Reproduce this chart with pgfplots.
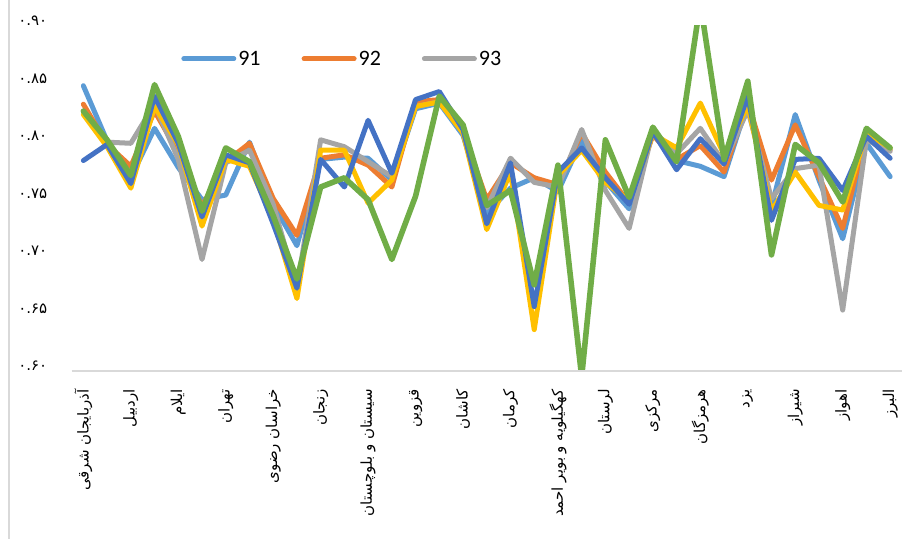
\documentclass[border=0pt]{standalone}
\usepackage{pgfplots}
\pgfplotsset{compat=1.18}
\usepackage{pgfplotstable}
\usepackage{fontspec}
\setmainfont{Carlito}
\newfontfamily\fa[Script=Arabic]{DejaVu Sans}
\TeXXeTstate=1
\definecolor{cA}{HTML}{5B9BD5}
\definecolor{cB}{HTML}{ED7D31}
\definecolor{cC}{HTML}{A5A5A5}
\definecolor{cD}{HTML}{FFC000}
\definecolor{cE}{HTML}{4472C4}
\definecolor{cF}{HTML}{70AD47}
\definecolor{axgray}{HTML}{D9D9D9}

\pgfplotstableread{
i  a     b     c     d     e     f
0  0.848 0.832 0.826 0.823 0.783 0.826
1  0.800 0.797 0.799 0.795 0.797 0.801
2  0.768 0.778 0.798 0.759 0.763 0.770
3  0.811 0.826 0.832 0.830 0.839 0.849
4  0.777 0.790 0.784 0.797 0.798 0.804
5  0.749 0.743 0.697 0.726 0.734 0.739
6  0.753 0.782 0.781 0.784 0.788 0.794
7  0.799 0.798 0.792 0.778 0.781 0.782
8  0.745 0.750 0.745 0.732 0.728 0.735
9  0.709 0.718 0.672 0.663 0.672 0.680
10 0.784 0.785 0.801 0.792 0.784 0.760
11 0.786 0.788 0.795 0.792 0.760 0.768
12 0.785 0.779 0.782 0.746 0.818 0.749
13 0.766 0.760 0.769 0.766 0.772 0.697
14 0.828 0.834 0.830 0.830 0.836 0.752
15 0.833 0.836 0.834 0.834 0.843 0.839
16 0.805 0.808 0.808 0.807 0.810 0.814
17 0.737 0.749 0.742 0.723 0.728 0.744
18 0.759 0.781 0.785 0.773 0.781 0.757
19 0.768 0.768 0.764 0.636 0.656 0.675
20 0.756 0.762 0.760 0.770 0.773 0.779
21 0.801 0.807 0.810 0.792 0.794 0.595
22 0.765 0.773 0.757 0.764 0.768 0.801
23 0.741 0.746 0.724 0.748 0.745 0.751
24 0.808 0.805 0.809 0.806 0.808 0.812
25 0.783 0.784 0.789 0.794 0.775 0.782
26 0.778 0.796 0.811 0.833 0.802 0.920
27 0.769 0.773 0.781 0.788 0.780 0.784
28 0.833 0.834 0.827 0.831 0.839 0.852
29 0.743 0.766 0.750 0.739 0.731 0.701
30 0.823 0.814 0.776 0.773 0.784 0.797
31 0.766 0.769 0.779 0.744 0.785 0.781
32 0.715 0.724 0.653 0.740 0.757 0.747
33 0.798 0.807 0.801 0.807 0.804 0.811
34 0.769 0.792 0.791 0.794 0.785 0.794
}\data

\begin{document}
\begin{tikzpicture}
\path[use as bounding box] (0bp,0bp) rectangle (903bp,539bp);
\draw[color=axgray, line width=1.5bp] (9bp,0bp) -- (9bp,539bp);
\begin{axis}[
  at={(83.37bp,168bp)}, anchor=origin,
  width=830.5bp, height=345bp, scale only axis,
  xmin=-0.5, xmax=34.5, ymin=0.6, ymax=0.9,
  axis line style={draw=none},
  major tick length=0pt,
  xtick={0,2,4,6,8,10,12,14,16,18,20,22,24,26,28,30,32,34},
  xticklabels={
    {\beginR آذربایجان شرقی\endR},
    {\beginR اردبیل\endR},
    {\beginR ایلام\endR},
    {\beginR تهران\endR},
    {\beginR خراسان رضوی\endR},
    {\beginR زنجان\endR},
    {\beginR سیستان و بلوچستان\endR},
    {\beginR قزوین\endR},
    {\beginR کاشان\endR},
    {\beginR کرمان\endR},
    {\beginR کهگیلویه و بویر احمد\endR},
    {\beginR لرستان\endR},
    {\beginR مرکزی\endR},
    {\beginR هرمزگان\endR},
    {\beginR یزد\endR},
    {\beginR شیراز\endR},
    {\beginR اهواز\endR},
    {\beginR البرز\endR}},
  xticklabel style={font=\fa\fontsize{15bp}{17bp}\selectfont, rotate=90, anchor=east, inner sep=0pt, xshift=2bp},
  xticklabel shift=20bp,
  ytick={0.60,0.65,0.70,0.75,0.80,0.85,0.90},
  yticklabels={۰.۶۰,۰.۶۵,۰.۷۰,۰.۷۵,۰.۸۰,۰.۸۵,۰.۹۰},
  yticklabel style={font=\fa\fontsize{15bp}{17bp}\selectfont, anchor=east, inner sep=0pt, yshift=5bp},
  yticklabel shift=24bp,
  legend columns=3,
  legend style={at={(0.132,0.905)}, anchor=west, draw=none, fill=none,
    font=\fontsize{22bp}{26bp}\selectfont, inner sep=0pt,
    /tikz/every even column/.append style={column sep=39bp}},
  legend image code/.code={\draw[#1, line cap=round] (0bp,0bp) -- (50bp,0bp);},
  every axis plot/.append style={line cap=round, line join=round},
]
\addplot[color=cA, line width=5bp] table[x=i,y=a]{\data};
\addlegendentry{91}
\addplot[color=cB, line width=5bp] table[x=i,y=b]{\data};
\addlegendentry{92}
\addplot[color=cC, line width=5bp] table[x=i,y=c]{\data};
\addlegendentry{93}
\addplot[color=cD, line width=5bp, forget plot] table[x=i,y=d]{\data};
\addplot[color=cE, line width=5bp, forget plot] table[x=i,y=e]{\data};
\addplot[color=cF, line width=5.6bp, forget plot] table[x=i,y=f]{\data};
\end{axis}
\draw[color=axgray, line width=1.5bp] (71.5bp,168bp) -- (902bp,168bp);
\end{tikzpicture}
\end{document}
